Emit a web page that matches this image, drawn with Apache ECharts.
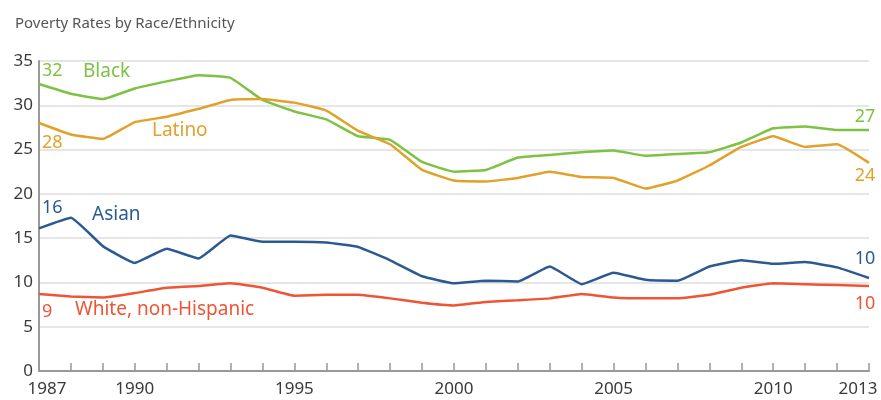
<!DOCTYPE html>
<html><head><meta charset="utf-8">
<script src="https://cdn.jsdelivr.net/npm/echarts@6/dist/echarts.min.js"></script>
<style>html,body{margin:0;padding:0;background:#fff}#c{width:881px;height:400px}</style>
</head><body><div id="c"></div>
<script>
const years = [1987,1988,1989,1990,1991,1992,1993,1994,1995,1996,1997,1998,1999,2000,2001,2002,2003,2004,2005,2006,2007,2008,2009,2010,2011,2012,2013];
const black = [32.4,31.3,30.7,31.9,32.7,33.4,33.1,30.6,29.3,28.4,26.5,26.1,23.6,22.5,22.7,24.1,24.4,24.7,24.9,24.3,24.5,24.7,25.8,27.4,27.6,27.2,27.2];
const latino = [28.0,26.7,26.2,28.1,28.7,29.6,30.6,30.7,30.3,29.4,27.1,25.6,22.7,21.5,21.4,21.8,22.5,21.9,21.8,20.6,21.5,23.2,25.3,26.5,25.3,25.6,23.5];
const asian = [16.1,17.3,14.1,12.2,13.8,12.7,15.3,14.6,14.6,14.5,14.0,12.5,10.7,9.9,10.2,10.1,11.8,9.8,11.1,10.3,10.2,11.8,12.5,12.1,12.3,11.7,10.5];
const white = [8.7,8.4,8.3,8.8,9.4,9.6,9.9,9.4,8.5,8.6,8.6,8.2,7.7,7.4,7.8,8.0,8.2,8.7,8.3,8.2,8.2,8.6,9.4,9.9,9.8,9.7,9.6];
const seriesNames = ['Black','Latino','Asian','White, non-Hispanic'];
const startLabels = [32,28,16,9];
const endLabels = [27,24,10,10];
const xLabels = [1987,1990,1995,2000,2005,2010,2013];
const yTicks = [0,5,10,15,20,25,30,35];
const title = 'Poverty Rates by Race/Ethnicity';

const FONT = '"Noto Sans"';
const colors = ['#7dc242','#e2a12a','#2b5a93','#ee5534'];
const values = [black, latino, asian, white];
const firstCfg = [{offset:[-2,-13]},{offset:[-2,20]},{offset:[-2,-21]},{offset:[-2,18]}];
const lastCfg = [{position:'top',offset:[-4,1]},{position:'bottom',offset:[-4,-1]},{position:'top',offset:[-4,-5]},{position:'bottom',offset:[-4,4]}];
const namePos = [[83,75],[152,134],[92,218],[75,313]];

function buildData(k){
  const vals = values[k];
  return vals.map((v,i)=>{
    const item = {value:[years[i], v]};
    const base = {show:true, distance:5, color:colors[k], fontSize:18, fontFamily:FONT};
    if(i===0) item.label = Object.assign({}, base, {position:'right', offset:firstCfg[k].offset, formatter:String(startLabels[k])});
    if(i===vals.length-1) item.label = Object.assign({}, base, {position:lastCfg[k].position, offset:lastCfg[k].offset, formatter:String(endLabels[k])});
    return item;
  });
}

const chart = echarts.init(document.getElementById('c'), null, {renderer:'canvas'});
chart.setOption({
  animation:false,
  backgroundColor:'#fff',
  title:{text:title, left:10, top:11, textStyle:{fontFamily:FONT, fontSize:15, fontWeight:'normal', color:'#555'}},
  grid:{left:39, right:12, top:61, bottom:29, containLabel:false},
  xAxis:{type:'value', min:1987, max:2013, interval:1,
    axisLine:{lineStyle:{color:'#999', width:2}},
    axisTick:{inside:true, length:8, lineStyle:{color:'#999', width:1.5}},
    splitLine:{show:false},
    axisLabel:{fontFamily:FONT, fontSize:17, color:'#3a3a3a', margin:10,
      formatter:(v)=> {
        if(xLabels.indexOf(v)<0) return '';
        if(v===xLabels[0]) return '{f|'+v+'}';
        if(v===xLabels[xLabels.length-1]) return '{l|'+v+'}';
        return String(v);
      },
      rich:{f:{fontFamily:FONT, fontSize:17, color:'#3a3a3a', padding:[0,0,0,16]},
            l:{fontFamily:FONT, fontSize:17, color:'#3a3a3a', padding:[0,22,0,0]}}
    }
  },
  yAxis:{type:'value', min:yTicks[0], max:yTicks[yTicks.length-1], interval:5,
    axisLine:{show:true, lineStyle:{color:'#999', width:2}},
    axisTick:{show:false},
    splitLine:{lineStyle:{color:'#e6e6e6', width:2}},
    axisLabel:{fontFamily:FONT, fontSize:17, color:'#3a3a3a', margin:6, padding:[0,0,7,0]}
  },
  series: seriesNames.map((n,k)=>({
    name:n, type:'line', data:buildData(k), showSymbol:true, symbol:'circle', symbolSize:0,
    lineStyle:{color:colors[k], width:2.5}, itemStyle:{color:colors[k]}, smooth:0.1, z:2
  })),
  graphic: seriesNames.map((n,k)=>({type:'text', left:namePos[k][0], top:namePos[k][1]-13,
    style:{text:n, fill:colors[k], font:'normal 19px '+FONT}}))
});
</script></body></html>
